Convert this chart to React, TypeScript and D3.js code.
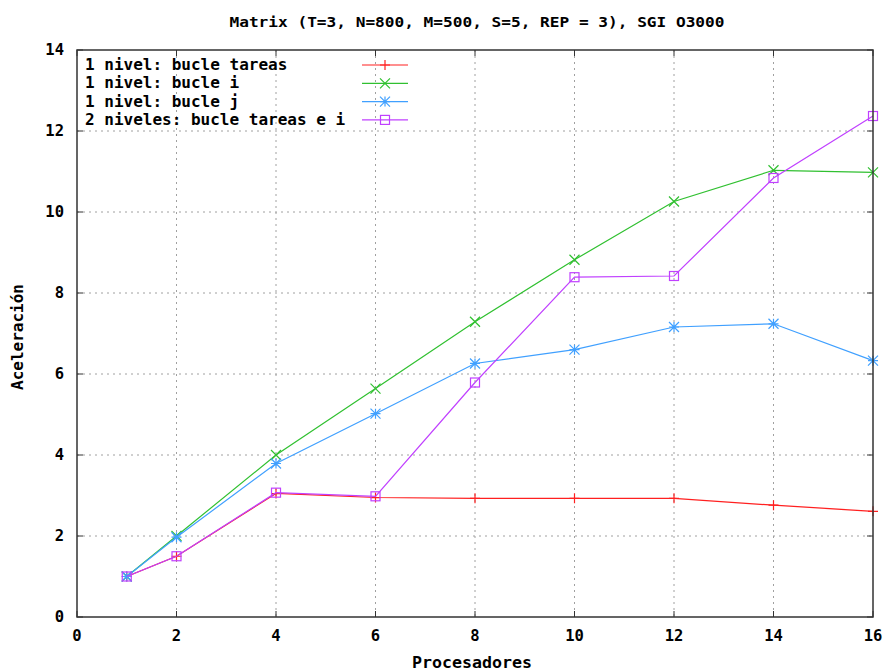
import React from "react";
import * as d3 from "d3";

const procs = [1, 2, 4, 6, 8, 10, 12, 14, 16];
const tareas = [1.0, 1.5, 3.05, 2.95, 2.93, 2.93, 2.93, 2.76, 2.61];
const bucleI = [1.0, 2.0, 4.0, 5.64, 7.29, 8.82, 10.26, 11.03, 10.98];
const bucleJ = [1.0, 1.97, 3.79, 5.02, 6.26, 6.6, 7.16, 7.24, 6.33];
const dosNiveles = [1.0, 1.5, 3.07, 2.98, 5.79, 8.39, 8.42, 10.84, 12.37];
const xTicks = [0, 2, 4, 6, 8, 10, 12, 14, 16];
const yTicks = [0, 2, 4, 6, 8, 10, 12, 14];
const seriesNames = [
  "1 nivel: bucle tareas",
  "1 nivel: bucle i",
  "1 nivel: bucle j",
  "2 niveles: bucle tareas e i",
];
const seriesColors = ["#ff2020", "#30c030", "#40a0ff", "#c040ff"];
const title = "Matrix (T=3, N=800, M=500, S=5, REP = 3), SGI O3000";

const W = 889, H = 671;
const L = 77, R = 873, T = 50, B = 617;
const FONT = "'DejaVu Sans Mono', monospace";

function Marker({ kind, x, y, color }: { kind: number; x: number; y: number; color: string }) {
  const s = 5;
  if (kind === 0)
    return <path d={`M${x - s},${y}H${x + s}M${x},${y - s}V${y + s}`} stroke={color} strokeWidth={1.2} fill="none" />;
  if (kind === 1)
    return <path d={`M${x - s},${y - s}L${x + s},${y + s}M${x - s},${y + s}L${x + s},${y - s}`} stroke={color} strokeWidth={1.2} fill="none" />;
  if (kind === 2)
    return (
      <path
        d={`M${x - s},${y}H${x + s}M${x},${y - s}V${y + s}M${x - s},${y - s}L${x + s},${y + s}M${x - s},${y + s}L${x + s},${y - s}`}
        stroke={color}
        strokeWidth={1.2}
        fill="none"
      />
    );
  return <rect x={x - 4.5} y={y - 4.5} width={9} height={9} stroke={color} strokeWidth={1.2} fill="none" />;
}

export default function App() {
  const x = d3.scaleLinear().domain([0, 16]).range([L, R]);
  const y = d3.scaleLinear().domain([0, 14]).range([B, T]);
  const data = [tareas, bucleI, bucleJ, dosNiveles];
  const line = d3
    .line<number>()
    .x((_, i) => x(procs[i]))
    .y((d) => y(d));

  return (
    <svg width={W} height={H} style={{ position: "absolute", left: 0, top: 0, background: "#fff" }}>
      <rect width={W} height={H} fill="#fff" />
      {xTicks.slice(1, -1).map((t) => (
        <line key={"gx" + t} x1={x(t)} x2={x(t)} y1={T} y2={B} stroke="#a0a0a0" strokeDasharray="2,4" strokeWidth={1} />
      ))}
      {yTicks.slice(1, -1).map((t) => (
        <line key={"gy" + t} x1={L} x2={R} y1={y(t)} y2={y(t)} stroke="#a0a0a0" strokeDasharray="2,4" strokeWidth={1} />
      ))}
      {xTicks.map((t) => (
        <g key={"tx" + t}>
          <line x1={x(t)} x2={x(t)} y1={B} y2={B - 6} stroke="#333" strokeWidth={1} />
          <line x1={x(t)} x2={x(t)} y1={T} y2={T + 6} stroke="#333" strokeWidth={1} />
          <text x={x(t)} y={641} textAnchor="middle" fontFamily={FONT} fontWeight="bold" fontSize={15.5} fill="#000">
            {t}
          </text>
        </g>
      ))}
      {yTicks.map((t) => (
        <g key={"ty" + t}>
          <line x1={L} x2={L + 6} y1={y(t)} y2={y(t)} stroke="#333" strokeWidth={1} />
          <line x1={R} x2={R - 6} y1={y(t)} y2={y(t)} stroke="#333" strokeWidth={1} />
          <text x={64} y={y(t) + 5} textAnchor="end" fontFamily={FONT} fontWeight="bold" fontSize={15.5} fill="#000">
            {t}
          </text>
        </g>
      ))}
      {data.map((vals, si) => (
        <g key={"s" + si}>
          <path d={line(vals) || ""} stroke={seriesColors[si]} strokeWidth={1.2} fill="none" />
          {vals.map((v, i) => (
            <Marker key={i} kind={si} x={x(procs[i])} y={y(v)} color={seriesColors[si]} />
          ))}
        </g>
      ))}
      <rect x={L} y={T} width={R - L} height={B - T} fill="none" stroke="#333" strokeWidth={1.5} />
      {seriesNames.map((n, i) => {
        const ly = 65 + i * 18.3;
        return (
          <g key={"l" + i}>
            <text x={85} y={ly + 5} fontFamily={FONT} fontWeight="bold" fontSize={16} fill="#000">
              {n}
            </text>
            <line x1={362} x2={408} y1={ly} y2={ly} stroke={seriesColors[i]} strokeWidth={1.2} />
            <Marker kind={i} x={385} y={ly} color={seriesColors[i]} />
          </g>
        );
      })}
      <text x={477} y={27} textAnchor="middle" fontFamily={FONT} fontWeight="bold" fontSize={14} fill="#000" textLength={495} lengthAdjust="spacingAndGlyphs">
        {title}
      </text>
      <text x={472} y={668} textAnchor="middle" fontFamily={FONT} fontWeight="bold" fontSize={15} fill="#000" textLength={120} lengthAdjust="spacingAndGlyphs">
        Procesadores
      </text>
      <text
        transform={`translate(23,337) rotate(-90)`}
        textAnchor="middle"
        fontFamily={FONT}
        fontWeight="bold"
        fontSize={15}
        fill="#000"
        textLength={106}
        lengthAdjust="spacingAndGlyphs"
      >
        Aceleración
      </text>
    </svg>
  );
}
